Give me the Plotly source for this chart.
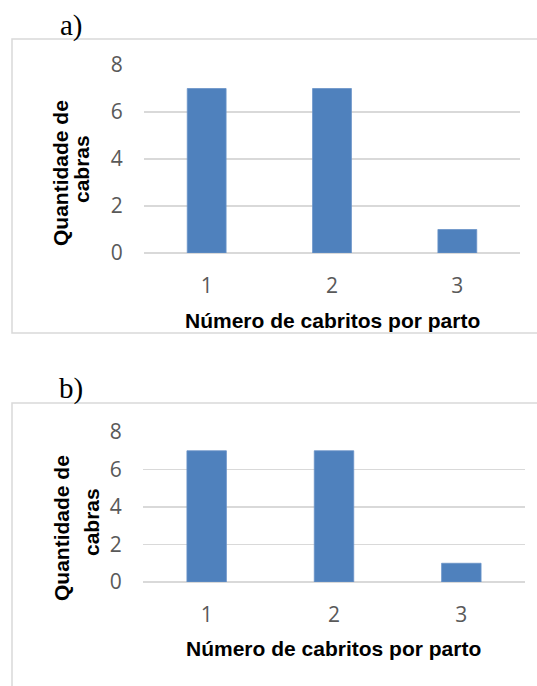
import plotly.graph_objects as go

categories = ["1", "2", "3"]
values_a = [7, 7, 1]
values_b = [7, 7, 1]
y_ticks = [0, 2, 4, 6, 8]
x_title = "Número de cabritos por parto"
y_title_lines = ["Quantidade de", "cabras"]
panel_labels = ["a)", "b)"]

W, H = 537, 686
def px(x):
    return x / W
def py(y):
    return 1 - y / H

BAR = "#4f81bd"
GRID = "#d9d9d9"

fig = go.Figure()
fig.add_trace(go.Bar(x=categories, y=values_a, marker=dict(color=BAR, line=dict(color="#6a93c8", width=0.8)),
                     width=0.31, xaxis="x", yaxis="y", showlegend=False, hoverinfo="skip"))
fig.add_trace(go.Bar(x=categories, y=values_b, marker=dict(color=BAR, line=dict(color="#6a93c8", width=0.8)),
                     width=0.31, xaxis="x2", yaxis="y2", showlegend=False, hoverinfo="skip"))

tickfont = dict(family="Open Sans", size=21, color="#595959")
common_x = dict(type="category", range=[-0.5, 2.5], showgrid=False, zeroline=False, showline=False,
                automargin=False,
                ticks="outside", ticklen=14, tickcolor="rgba(0,0,0,0)", tickfont=tickfont, fixedrange=True)
common_y = dict(range=[0, 8], tickvals=y_ticks, showgrid=True, gridcolor=GRID, gridwidth=1.5,
                zeroline=True, zerolinecolor=GRID, zerolinewidth=1.5, showline=False, automargin=False,
                ticks="outside", ticklen=16, tickcolor="rgba(0,0,0,0)", tickfont=tickfont, fixedrange=True)

fig.update_layout(
    width=W, height=H, margin=dict(l=0, r=0, t=0, b=0, autoexpand=False),
    paper_bgcolor="white", plot_bgcolor="white",
    xaxis=dict(domain=[px(144), px(520)], anchor="y", **common_x),
    yaxis=dict(domain=[py(253), py(65)], anchor="x", **common_y),
    xaxis2=dict(domain=[px(143), px(525)], anchor="y2", **common_x),
    yaxis2=dict(domain=[py(582), py(432)], anchor="x2", **common_y),
    bargap=0,
)

shapes = [
    dict(type="rect", xref="paper", yref="paper", x0=px(12), x1=px(545), y0=py(333), y1=py(39),
         line=dict(color=GRID, width=1.5), fillcolor="rgba(0,0,0,0)", layer="below"),
    dict(type="rect", xref="paper", yref="paper", x0=px(12), x1=px(545), y0=py(700), y1=py(403),
         line=dict(color=GRID, width=1.5), fillcolor="rgba(0,0,0,0)", layer="below"),
]
fig.update_layout(shapes=shapes)

titlefont = dict(family="Liberation Sans", size=21, color="black")
labelfont = dict(family="Liberation Serif", size=29, color="black")

def add_text(text, x, y, font, angle=0):
    fig.add_annotation(text=text, x=px(x), y=py(y), xref="paper", yref="paper", showarrow=False,
                       xanchor="center", yanchor="middle", textangle=angle, font=font)

add_text(panel_labels[0], 71, 25, labelfont)
add_text(panel_labels[1], 71, 388, labelfont)
add_text("<b>" + x_title + "</b>", 332, 320, titlefont)
add_text("<b>" + x_title + "</b>", 333, 648, titlefont)
add_text("<b>" + y_title_lines[0] + "</b>", 60, 173, titlefont, -90)
add_text("<b>" + y_title_lines[1] + "</b>", 81, 169, titlefont, -90)
add_text("<b>" + y_title_lines[0] + "</b>", 61, 528, titlefont, -90)
add_text("<b>" + y_title_lines[1] + "</b>", 91, 522, titlefont, -90)

fig.write_html("out.html", config={"displayModeBar": False, "staticPlot": True},
               post_script="document.body.style.margin='0';")
